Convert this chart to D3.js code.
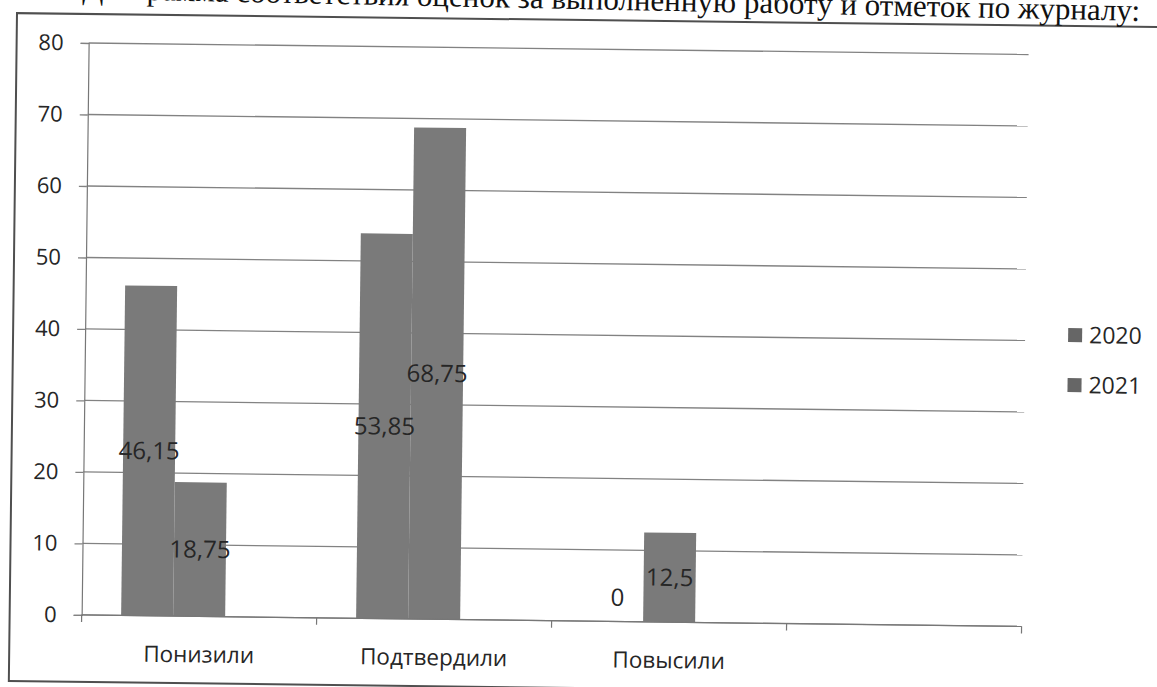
<!DOCTYPE html>
<html>
<head>
<meta charset="utf-8">
<script src="https://cdn.jsdelivr.net/npm/d3@7/dist/d3.min.js"></script>
<style>
  body { margin: 0; background: #fff; }
  svg text { font-family: "Open Sans", "Noto Sans", sans-serif; fill: #262626; }
</style>
</head>
<body>
<svg id="chart" width="1157" height="687"></svg>
<script>
// data
const title = "Диаграмма соответствия оценок за выполненную работу и отметок по журналу:";
const categories = ["Понизили", "Подтвердили", "Повысили", ""];
const seriesNames = ["2020", "2021"];
const values2020 = [46.15, 53.85, 0, null];
const values2021 = [18.75, 68.75, 12.5, null];
const yTicks = [0, 10, 20, 30, 40, 50, 60, 70, 80];

const width = 1157, height = 687;
const margin = { left: 85, right: 132, top: 49, bottom: 66 };
const barColor = "#7a7a7a";
const gridColor = "#828282";

const svg = d3.select("#chart");
// the scan is tilted a little clockwise
const g = svg.append("g").attr("transform", "rotate(0.7," + width / 2 + "," + height / 2 + ")");

const x0 = d3.scaleBand()
    .domain(categories.map((d, i) => i))
    .range([margin.left, width - margin.right])
    .paddingInner(0.336)
    .paddingOuter(0.168);
// three slots per group, third one is empty (as in the original workbook)
const x1 = d3.scaleBand()
    .domain(["2020", "2021", "empty"])
    .range([0, x0.bandwidth()]);
const y = d3.scaleLinear()
    .domain([0, 80])
    .range([height - margin.bottom, margin.top]);

// frame
g.append("rect")
    .attr("x", 13).attr("y", 20)
    .attr("width", 1160).attr("height", 668)
    .attr("fill", "none").attr("stroke", "#4f4f4f").attr("stroke-width", 2);

// title (cut at the top in the scan, tilted a bit more than the chart)
g.append("text")
    .attr("x", 1136).attr("y", 14)
    .attr("transform", "rotate(0.5,1136,14)")
    .attr("text-anchor", "end")
    .style("font-family", "'Liberation Serif', 'Times New Roman', serif")
    .style("font-size", "31px")
    .style("fill", "#111")
    .text(title);

// gridlines
g.append("g").selectAll("line")
    .data(yTicks).enter()
    .append("line")
    .attr("x1", margin.left).attr("x2", width - margin.right)
    .attr("y1", d => y(d)).attr("y2", d => y(d))
    .attr("stroke", gridColor).attr("stroke-width", 1.3);

// y axis
const yAxis = g.append("g")
    .attr("transform", "translate(" + margin.left + ",0)")
    .call(d3.axisLeft(y).tickValues(yTicks).tickSize(8).tickPadding(17));
yAxis.select(".domain").attr("stroke", "#777").attr("stroke-width", 1.2);
yAxis.selectAll(".tick line").attr("stroke", gridColor).attr("stroke-width", 1.3);
yAxis.selectAll("text").style("font-size", "22px").attr("fill", "#262626");

// bars
const series = [
    { name: "2020", values: values2020 },
    { name: "2021", values: values2021 }
];
series.forEach(s => {
    g.append("g").selectAll("rect")
        .data(s.values.map((v, i) => ({ i: i, v: v })).filter(d => d.v !== null))
        .enter()
        .append("rect")
        .attr("x", d => x0(d.i) + x1(s.name))
        .attr("y", d => y(d.v))
        .attr("width", x1.bandwidth())
        .attr("height", d => y(0) - y(d.v))
        .attr("fill", barColor);
});

// x axis line and boundary ticks
const x0Start = x0.range()[0];
g.append("line")
    .attr("x1", margin.left).attr("x2", width - margin.right)
    .attr("y1", y(0)).attr("y2", y(0))
    .attr("stroke", "#777").attr("stroke-width", 1.2);
g.append("g").selectAll("line")
    .data(d3.range(categories.length + 1)).enter()
    .append("line")
    .attr("x1", d => x0Start + d * x0.step())
    .attr("x2", d => x0Start + d * x0.step())
    .attr("y1", y(0)).attr("y2", y(0) + 7)
    .attr("stroke", "#777").attr("stroke-width", 1.2);
g.append("g").selectAll("text")
    .data(categories).enter()
    .append("text")
    .attr("x", (d, i) => x0Start + (i + 0.5) * x0.step())
    .attr("y", y(0) + 46)
    .attr("text-anchor", "middle")
    .style("font-size", "22.5px")
    .text(d => d);

// data labels, centered in bars
const fmt = v => String(v).replace(".", ",");
series.forEach(s => {
    g.append("g").selectAll("text")
        .data(s.values.map((v, i) => ({ i: i, v: v })).filter(d => d.v !== null))
        .enter()
        .append("text")
        .attr("x", d => x0(d.i) + x1(s.name) + x1.bandwidth() / 2)
        .attr("y", d => d.v === 0 ? y(0) - 24 : y(d.v / 2))
        .attr("dy", "0.35em")
        .attr("text-anchor", "middle")
        .style("font-size", "24px")
        .text(d => fmt(d.v));
});

// legend
const legend = g.append("g").selectAll("g")
    .data(seriesNames).enter()
    .append("g")
    .attr("transform", (d, i) => "translate(1068," + (329 + i * 50) + ")");
legend.append("rect")
    .attr("x", 0).attr("y", -7)
    .attr("width", 14).attr("height", 14)
    .attr("fill", "#666");
legend.append("text")
    .attr("x", 21).attr("dy", "0.35em")
    .style("font-size", "23px")
    .text(d => d);
</script>
</body>
</html>
